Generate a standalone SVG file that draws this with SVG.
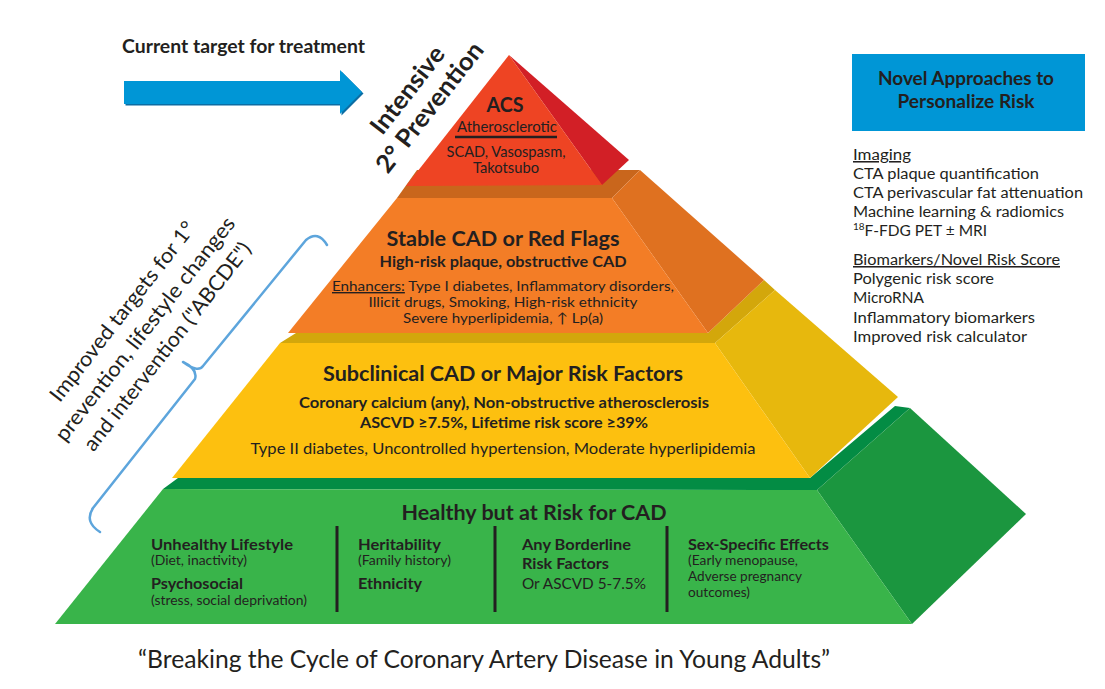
<svg xmlns="http://www.w3.org/2000/svg" width="1105" height="689" viewBox="0 0 1105 689">
<style>
text{font-family:Lato,"Liberation Sans",sans-serif;fill:#231F20}
.b{font-weight:700}
.c{text-anchor:middle}
.h{font-size:21px;font-weight:700}
.m{font-size:15px}
.e{font-size:14px}
.s{font-size:13px}
.r{font-size:15.5px}
.u{text-decoration:underline}
</style>
<rect width="1105" height="689" fill="#fff"/>

<g id="header-arrow">
<text class="b" x="122" y="53" font-size="18" textLength="243" lengthAdjust="spacingAndGlyphs">Current target for treatment</text>
<polygon points="125.5,82.5 341.5,82.5 341.5,71.5 363.5,93.5 341.5,115.5 341.5,105.5 125.5,105.5" fill="#0B6DA3"/>
<polygon points="124,81 340,81 340,70 362,92 340,114 340,104 124,104" fill="#0096D6"/>
</g>

<g id="intensive-label" transform="translate(419,99) rotate(-52)">
<text class="b c" x="0" y="-6" font-size="25" textLength="104" lengthAdjust="spacingAndGlyphs">Intensive</text>
<text class="b c" x="0" y="22" font-size="25" textLength="158" lengthAdjust="spacingAndGlyphs">2° Prevention</text>
</g>

<g id="tier-green">
<polygon points="163,489 178,478 810,478 895,406 910,408 817,490" fill="#038C44"/>
<polygon points="817,490 910,408 1026,514 912,624" fill="#1B963F"/>
<polygon points="163,489 817,490 912,624 55,624" fill="#39B44A"/>
<text class="h c" x="534" y="520" textLength="265" lengthAdjust="spacingAndGlyphs">Healthy but at Risk for CAD</text>
<line x1="337" y1="526" x2="337" y2="612" stroke="#231F20" stroke-width="3"/>
<line x1="495" y1="526" x2="495" y2="612" stroke="#231F20" stroke-width="3"/>
<line x1="667" y1="526" x2="667" y2="612" stroke="#231F20" stroke-width="3"/>
<text class="b m" x="151" y="550" textLength="142" lengthAdjust="spacingAndGlyphs">Unhealthy Lifestyle</text>
<text class="s" x="151" y="565" textLength="96" lengthAdjust="spacingAndGlyphs">(Diet, inactivity)</text>
<text class="b m" x="151" y="589" textLength="92" lengthAdjust="spacingAndGlyphs">Psychosocial</text>
<text class="s" x="151" y="605" textLength="156" lengthAdjust="spacingAndGlyphs">(stress, social deprivation)</text>
<text class="b m" x="358" y="550" textLength="83" lengthAdjust="spacingAndGlyphs">Heritability</text>
<text class="s" x="358" y="565" textLength="93" lengthAdjust="spacingAndGlyphs">(Family history)</text>
<text class="b m" x="358" y="589" textLength="64" lengthAdjust="spacingAndGlyphs">Ethnicity</text>
<text class="b m" x="522" y="550" textLength="109" lengthAdjust="spacingAndGlyphs">Any Borderline</text>
<text class="b m" x="522" y="569" textLength="87" lengthAdjust="spacingAndGlyphs">Risk Factors</text>
<text class="m" x="522" y="589" textLength="124" lengthAdjust="spacingAndGlyphs">Or ASCVD 5-7.5%</text>
<text class="b m" x="688" y="550" textLength="141" lengthAdjust="spacingAndGlyphs">Sex-Specific Effects</text>
<text class="s" x="688" y="565" textLength="110" lengthAdjust="spacingAndGlyphs">(Early menopause,</text>
<text class="s" x="688" y="581" textLength="114" lengthAdjust="spacingAndGlyphs">Adverse pregnancy</text>
<text class="s" x="688" y="597" textLength="62" lengthAdjust="spacingAndGlyphs">outcomes)</text>
</g>

<g id="tier-yellow">
<polygon points="280,343 296,333 708,333 764,280 775,290 715,343" fill="#D3A70B"/>
<polygon points="715,343 775,290 898,397 810,478" fill="#E7B80D"/>
<polygon points="280,343 715,343 810,478 172,478" fill="#FDC00F"/>
<text class="h c" x="503" y="381" textLength="360" lengthAdjust="spacingAndGlyphs">Subclinical CAD or Major Risk Factors</text>
<text class="b m c" x="504" y="408" textLength="410" lengthAdjust="spacingAndGlyphs">Coronary calcium (any), Non-obstructive atherosclerosis</text>
<text class="b m c" x="504" y="428" textLength="288" lengthAdjust="spacingAndGlyphs">ASCVD ≥7.5%, Lifetime risk score ≥39%</text>
<text class="m c" x="503" y="454" textLength="505" lengthAdjust="spacingAndGlyphs">Type II diabetes, Uncontrolled hypertension, Moderate hyperlipidemia</text>
</g>

<g id="tier-orange">
<polygon points="397,198 417,170 640,170 612,198" fill="#C9661C"/>
<polygon points="612,198 640,170 764,280 708,333" fill="#DF7120"/>
<polygon points="397,198 612,198 708,333 288,333" fill="#F37D26"/>
<text class="h c" x="503" y="246" textLength="233" lengthAdjust="spacingAndGlyphs">Stable CAD or Red Flags</text>
<text class="b m c" x="503" y="267" textLength="247" lengthAdjust="spacingAndGlyphs">High-risk plaque, obstructive CAD</text>
<text class="e c" x="503" y="291" textLength="342" lengthAdjust="spacingAndGlyphs"><tspan class="u">Enhancers:</tspan> Type I diabetes, Inflammatory disorders,</text>
<text class="e c" x="503" y="307" textLength="269" lengthAdjust="spacingAndGlyphs">Illicit drugs, Smoking, High-risk ethnicity</text>
<text class="e c" x="503" y="323" textLength="200" lengthAdjust="spacingAndGlyphs">Severe hyperlipidemia, ↑ Lp(a)</text>
</g>

<g id="tier-red">
<polygon points="509,55 629,160 602,185" fill="#D21F26"/>
<polygon points="509,55 406,186 602,185" fill="#EE4423"/>
<text class="h c" x="505" y="112" textLength="37" lengthAdjust="spacingAndGlyphs">ACS</text>
<text class="m c" x="507" y="132" textLength="100" lengthAdjust="spacingAndGlyphs">Atherosclerotic</text>
<line x1="455" y1="137" x2="557" y2="137" stroke="#231F20" stroke-width="2.5"/>
<text class="m c" x="506" y="157" textLength="119" lengthAdjust="spacingAndGlyphs">SCAD, Vasospasm,</text>
<text class="m c" x="506" y="173" textLength="66" lengthAdjust="spacingAndGlyphs">Takotsubo</text>
</g>

<g id="connectors">
<path d="M327,245 Q318,230 306,240 L203,366 Q198,373 183,362 Q198,369 195,379 L93,508 Q84,522 100,532" fill="none" stroke="#5DA5DC" stroke-width="2.5" stroke-linecap="round" stroke-linejoin="round"/>
</g>

<g id="primary-label" transform="translate(145,329) rotate(-52)">
<text class="c" x="0" y="-21.5" font-size="21" textLength="222" lengthAdjust="spacingAndGlyphs">Improved targets for 1°</text>
<text class="c" x="0" y="7" font-size="21" textLength="278" lengthAdjust="spacingAndGlyphs">prevention, lifestyle changes</text>
<text class="c" x="0" y="35.5" font-size="21" textLength="258" lengthAdjust="spacingAndGlyphs">and intervention ("ABCDE")</text>
</g>

<g id="novel-panel">
<rect x="852" y="54" width="233" height="77" fill="#0096D6"/>
<text class="b c" x="966" y="85" font-size="19" textLength="176" lengthAdjust="spacingAndGlyphs">Novel Approaches to</text>
<text class="b c" x="966" y="108" font-size="19" textLength="137" lengthAdjust="spacingAndGlyphs">Personalize Risk</text>
<text class="r u" x="853" y="160" textLength="58" lengthAdjust="spacingAndGlyphs">Imaging</text>
<text class="r" x="853" y="179" textLength="186" lengthAdjust="spacingAndGlyphs">CTA plaque quantification</text>
<text class="r" x="853" y="198" textLength="230" lengthAdjust="spacingAndGlyphs">CTA perivascular fat attenuation</text>
<text class="r" x="853" y="217" textLength="211" lengthAdjust="spacingAndGlyphs">Machine learning &amp; radiomics</text>
<text class="r" x="853" y="236"><tspan font-size="10" dy="-6">18</tspan><tspan dy="6">F-FDG PET ± MRI</tspan></text>
<text class="r u" x="853" y="265" textLength="207" lengthAdjust="spacingAndGlyphs">Biomarkers/Novel Risk Score</text>
<text class="r" x="853" y="284" textLength="141" lengthAdjust="spacingAndGlyphs">Polygenic risk score</text>
<text class="r" x="853" y="303" textLength="71" lengthAdjust="spacingAndGlyphs">MicroRNA</text>
<text class="r" x="853" y="323" textLength="182" lengthAdjust="spacingAndGlyphs">Inflammatory biomarkers</text>
<text class="r" x="853" y="342" textLength="174" lengthAdjust="spacingAndGlyphs">Improved risk calculator</text>
</g>

<g id="title">
<text x="484" y="668" class="c" font-size="25" textLength="692" lengthAdjust="spacingAndGlyphs">“Breaking the Cycle of Coronary Artery Disease in Young Adults”</text>
</g>
</svg>
